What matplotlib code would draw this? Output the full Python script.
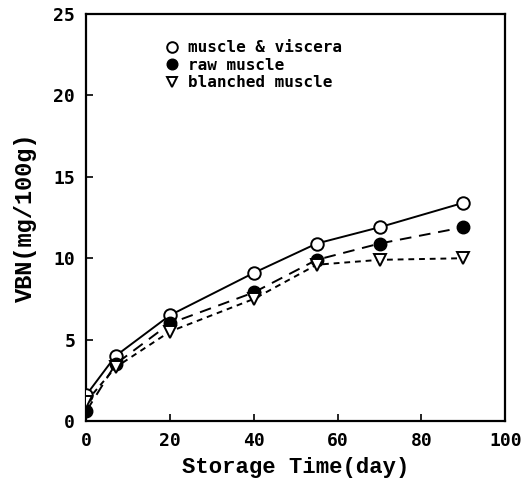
import matplotlib
matplotlib.use("Agg")
import matplotlib.pyplot as plt
import numpy as np

# storage days
days = [0, 7, 20, 40, 55, 70, 90]
# VBN values (mg/100g)
muscle_viscera = [1.6, 4.0, 6.5, 9.1, 10.9, 11.9, 13.4]
raw_muscle = [0.6, 3.5, 6.0, 7.9, 9.9, 10.9, 11.9]
blanched_muscle = [1.2, 3.3, 5.5, 7.5, 9.6, 9.9, 10.0]

fig = plt.figure(figsize=(5.29, 4.96), dpi=100)
ax = fig.add_axes([0.163, 0.151, 0.792, 0.821])

ax.plot(days, muscle_viscera, '-', color='black', lw=1.4, marker='o', ms=9,
        mfc='white', mec='black', mew=1.4, label='muscle & viscera', zorder=3)
ax.plot(days, raw_muscle, '--', color='black', lw=1.4, dashes=(6, 4), marker='o', ms=9,
        mfc='black', mec='black', label='raw muscle', zorder=3)
ax.plot(days, blanched_muscle, '--', color='black', lw=1.4, dashes=(3, 2.5), marker='v', ms=9,
        mfc='white', mec='black', mew=1.4, label='blanched muscle', zorder=3)

ax.set_xlim(0, 100)
ax.set_ylim(0, 25)
ax.set_xticks([0, 20, 40, 60, 80, 100])
ax.set_yticks([0, 5, 10, 15, 20, 25])
ax.tick_params(direction='in', length=5, width=1.2, labelsize=13, pad=8)
for lab in ax.get_xticklabels() + ax.get_yticklabels():
    lab.set_fontweight('bold')
    lab.set_family('DejaVu Sans Mono')
for s in ax.spines.values():
    s.set_linewidth(1.6)

ax.set_xlabel('Storage Time(day)', fontsize=16, family='Liberation Mono', fontweight='bold', labelpad=5)
ax.set_ylabel('VBN(mg/100g)', fontsize=17, family='Liberation Mono', fontweight='bold', labelpad=12)

leg = ax.legend(loc='upper left', bbox_to_anchor=(0.17, 0.97), frameon=False,
                handlelength=0, handletextpad=1.0, labelspacing=0.15, markerscale=0.85,
                prop={'family': 'DejaVu Sans Mono', 'weight': 'bold', 'size': 11.5})
for h in leg.legend_handles:
    h.set_linestyle('None')

fig.savefig('out.png', dpi=100)
